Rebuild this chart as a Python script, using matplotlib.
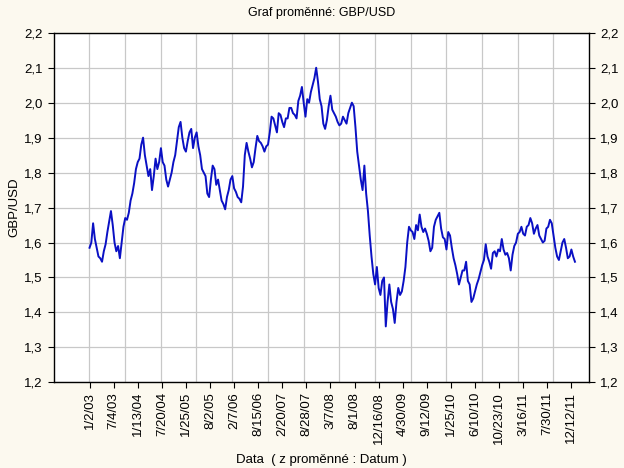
import numpy as np
import matplotlib
matplotlib.use("Agg")
import matplotlib.pyplot as plt
from matplotlib.ticker import FixedLocator, FuncFormatter

# GBP/USD daily rate, read every 10th case from the picture (case 1, 11, 21, ...)
step = 10
rate_2003_2005 = [
    1.585, 1.60, 1.655, 1.61, 1.585, 1.56, 1.555, 1.545, 1.575, 1.595,
    1.63, 1.66, 1.69, 1.65, 1.60, 1.575, 1.59, 1.555, 1.60, 1.645,
    1.67, 1.665, 1.685, 1.72, 1.74, 1.77, 1.81, 1.83, 1.84, 1.88,
    1.90, 1.85, 1.82, 1.79, 1.81, 1.75, 1.79, 1.84, 1.81, 1.83,
    1.87, 1.83, 1.82, 1.78, 1.76, 1.78, 1.80, 1.83, 1.85, 1.89,
    1.93, 1.945, 1.90, 1.87,
]
rate_2005_2007 = [
    1.86, 1.89, 1.915, 1.925, 1.87, 1.90, 1.915, 1.875, 1.85, 1.81,
    1.80, 1.79, 1.74, 1.73, 1.78, 1.82, 1.81, 1.765, 1.78, 1.75,
    1.72, 1.71, 1.695, 1.73, 1.75, 1.78, 1.79, 1.755, 1.745, 1.73,
    1.725, 1.715, 1.76, 1.85, 1.885, 1.86, 1.84, 1.815, 1.83, 1.87,
    1.905, 1.89, 1.885, 1.875, 1.86, 1.875, 1.88, 1.915, 1.96, 1.955,
    1.935, 1.915, 1.97, 1.965, 1.945,
]
rate_2007_2009 = [
    1.93, 1.955, 1.955, 1.985, 1.985, 1.97, 1.965, 1.955, 2.005, 2.02,
    2.045, 2.0, 1.96, 2.01, 2.0, 2.03, 2.05, 2.07, 2.1, 2.06,
    2.01, 1.99, 1.94, 1.925, 1.95, 1.99, 2.02, 1.98, 1.97, 1.96,
    1.945, 1.935, 1.94, 1.96, 1.95, 1.94, 1.97, 1.985, 2.0, 1.99,
    1.93, 1.86, 1.82, 1.78, 1.75, 1.82, 1.74, 1.69, 1.62, 1.56,
    1.51, 1.48, 1.53, 1.47, 1.45,
]
rate_2009_2010 = [
    1.49, 1.50, 1.36, 1.43, 1.48, 1.43, 1.41, 1.37, 1.43, 1.47,
    1.45, 1.46, 1.49, 1.53, 1.60, 1.645, 1.635, 1.63, 1.61, 1.65,
    1.635, 1.68, 1.645, 1.63, 1.64, 1.625, 1.605, 1.575, 1.585, 1.645,
    1.665, 1.675, 1.685, 1.64, 1.615, 1.61, 1.58, 1.63, 1.62, 1.585,
    1.555, 1.535, 1.51, 1.48, 1.50, 1.52, 1.52, 1.545, 1.49, 1.48,
    1.43, 1.44, 1.46, 1.48, 1.495,
]
rate_2010_2011 = [
    1.515, 1.535, 1.55, 1.595, 1.56, 1.545, 1.525, 1.57, 1.575, 1.56,
    1.58, 1.575, 1.61, 1.58, 1.565, 1.57, 1.555, 1.52, 1.565, 1.59,
    1.60, 1.625, 1.63, 1.645, 1.625, 1.62, 1.645, 1.65, 1.67, 1.655,
    1.625, 1.64, 1.65, 1.62, 1.61, 1.60, 1.605, 1.64, 1.645, 1.665,
    1.655, 1.62, 1.585, 1.56, 1.55, 1.575, 1.60, 1.61, 1.585, 1.555,
    1.56, 1.58, 1.56, 1.545,
]

# date labels shown every 135th case
date_labels = [
    "1/2/03", "7/4/03", "1/13/04", "7/20/04", "1/25/05", "8/2/05", "2/7/06",
    "8/15/06", "2/20/07", "8/28/07", "3/7/08", "8/1/08", "12/16/08", "4/30/09",
    "9/12/09", "1/25/10", "6/10/10", "10/23/10", "3/16/11", "7/30/11", "12/12/11",
]
label_every = 135

rate = np.array(rate_2003_2005 + rate_2005_2007 + rate_2007_2009
                + rate_2009_2010 + rate_2010_2011)
case = 1 + step * np.arange(len(rate))

plt.rcParams["font.family"] = ["Liberation Sans", "DejaVu Sans"]
plt.rcParams["font.size"] = 9.5

bg = "#fcf9ef"
fig = plt.figure(figsize=(6.24, 4.68), dpi=100, facecolor=bg)
ax = fig.add_axes([0.086, 0.183, 0.858, 0.747])
ax.set_facecolor("white")

ax.plot(case, rate, color="#0a10c4", linewidth=1.4)

ax.set_xlim(-200, 2800)
ax.set_ylim(1.2, 2.2)

# x: gridlines every 200 cases, date labels every 135 cases
ax.xaxis.set_minor_locator(FixedLocator(np.arange(0, 2800, 200)))
ax.set_xticks(1 + label_every * np.arange(len(date_labels)))
ax.set_xticklabels(date_labels, rotation=90)
ax.grid(True, which="minor", axis="x", color="#c8c8c8", linewidth=0.9)
ax.tick_params(axis="x", which="minor", length=0)
ax.tick_params(axis="x", which="major", length=4, direction="out", pad=3)

yt = np.round(np.arange(1.2, 2.21, 0.1), 1)
ax.set_yticks(yt)
ax.yaxis.set_major_formatter(FuncFormatter(lambda v, p: f"{v:.1f}".replace(".", ",")))
ax.grid(True, which="major", axis="y", color="#c8c8c8", linewidth=0.9)
ax.tick_params(axis="y", which="major", length=4, direction="out",
               left=True, right=True, labelleft=True, labelright=True, pad=4)

for s in ax.spines.values():
    s.set_color("black")
    s.set_linewidth(1.0)

ax.set_title("Graf proměnné: GBP/USD", fontsize=9, pad=12)
ax.set_ylabel("GBP/USD", fontsize=9.5, labelpad=3)
ax.set_xlabel("Data  ( z proměnné : Datum )", fontsize=9.5, labelpad=7)

fig.savefig("out.png", dpi=100, facecolor=bg)
